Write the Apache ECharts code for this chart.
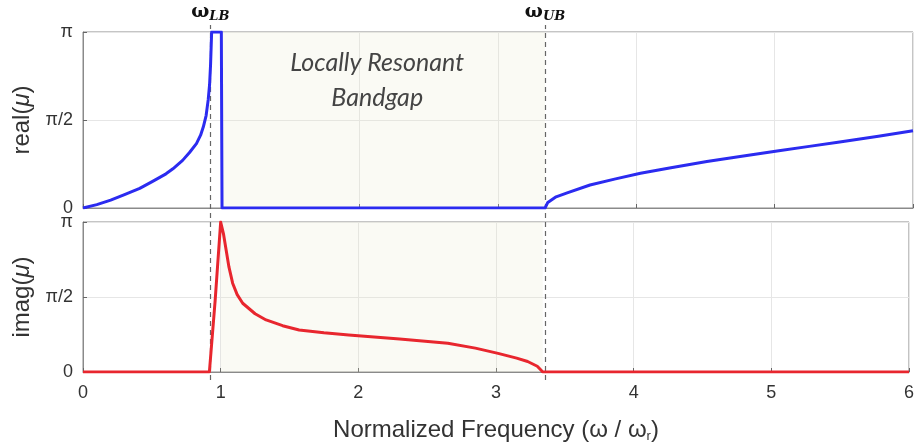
<!DOCTYPE html>
<html>
<head>
<meta charset="utf-8">
<script src="https://cdn.jsdelivr.net/npm/echarts@6/dist/echarts.min.js"></script>
<style>
html,body{margin:0;padding:0;background:#fff;}
#chart{width:917px;height:447px;}
</style>
</head>
<body>
<div id="chart"></div>
<script>
// ---- data ----
const PI = Math.PI;
const realX = [0, 0.1, 0.2, 0.3, 0.41, 0.5, 0.6, 0.65, 0.72, 0.77, 0.82, 0.85, 0.87, 0.89, 0.905, 0.915, 0.922, 0.93, 1.0, 1.005, 3.34, 3.36, 3.42, 3.5, 3.665, 3.85, 4.03, 4.25, 4.51, 4.75, 5.03, 5.25, 5.47, 5.75, 6.0];
const realY = [0, 0.06, 0.14, 0.24, 0.35, 0.47, 0.61, 0.7, 0.85, 0.99, 1.15, 1.3, 1.45, 1.65, 1.93, 2.2, 2.55, 3.1416, 3.1416, 0, 0, 0.1, 0.2, 0.27, 0.41, 0.52, 0.62, 0.72, 0.83, 0.92, 1.02, 1.1, 1.18, 1.28, 1.38];
const imagX = [0, 0.918, 0.96, 1.0, 1.02, 1.04, 1.06, 1.087, 1.12, 1.16, 1.25, 1.33, 1.45, 1.57, 1.75, 1.93, 2.3, 2.65, 2.85, 3.015, 3.15, 3.23, 3.3, 3.34, 6.0];
const imagY = [0, 0, 1.5, 3.1416, 2.9, 2.55, 2.2, 1.86, 1.62, 1.44, 1.22, 1.09, 0.97, 0.88, 0.82, 0.775, 0.69, 0.60, 0.50, 0.39, 0.29, 0.22, 0.12, 0, 0];
const xTicks = [0, 1, 2, 3, 4, 5, 6];
const yTickLabels = ['0', 'π/2', 'π'];
const omegaLB = 0.918;
const omegaUB = 3.34;
const gapStart = 1.0;
const gapEnd = 3.34;

const pairs = (xs, ys) => xs.map((x, i) => [x, ys[i]]);

const chart = echarts.init(document.getElementById('chart'), null, {renderer: 'canvas'});
const FONT = '"Liberation Sans", Arial, sans-serif';
const gridLeft = 83, gridRight = 4;

const xBase = (gi, showLabels) => ({
  type: 'value', gridIndex: gi, min: 0, max: 6, interval: 1,
  axisLine: {show: true, lineStyle: {color: '#8a8a8a'}},
  axisTick: {show: true, inside: true, length: 4, lineStyle: {color: '#666'}},
  axisLabel: {show: showLabels, color: '#333', fontSize: 18, fontFamily: FONT, margin: 12,
    formatter: v => String(xTicks[xTicks.indexOf(v)])},
  splitLine: {show: true, lineStyle: {color: '#e6e6e6'}}
});
const yBase = (gi, nameTxt) => ({
  type: 'value', gridIndex: gi, min: 0, max: PI, interval: PI / 2,
  name: nameTxt, nameLocation: 'middle', nameGap: 32, nameRotate: 90,
  nameTextStyle: {color: '#333', fontSize: 24, fontFamily: FONT,
    rich: {n: {fontSize: 24, fontFamily: FONT, color: '#333'},
           i: {fontSize: 24, fontStyle: 'italic', fontFamily: FONT, color: '#333'}}},
  axisLine: {show: true, lineStyle: {color: '#8a8a8a'}},
  axisTick: {show: true, inside: true, length: 4, lineStyle: {color: '#666'}},
  axisLabel: {color: '#333', fontSize: 18, fontFamily: FONT, margin: 10,
    formatter: v => yTickLabels[Math.round(v / (PI / 2))]},
  splitLine: {show: true, lineStyle: {color: '#e6e6e6'}}
});

const shade = {
  silent: true,
  itemStyle: {color: 'rgba(230,230,200,0.2)'},
  data: [[{xAxis: gapStart}, {xAxis: gapEnd}]]
};

const option = {
  animation: false,
  backgroundColor: '#fff',
  grid: [
    {left: gridLeft, right: gridRight, top: 32, height: 176, show: true, borderColor: '#8a8a8a', borderWidth: 1, backgroundColor: 'transparent'},
    {left: gridLeft, right: gridRight, top: 222, height: 150, show: true, borderColor: '#8a8a8a', borderWidth: 1, backgroundColor: 'transparent'},
    {left: gridLeft, right: gridRight, top: 25, bottom: 67}
  ],
  xAxis: [
    xBase(0, false),
    Object.assign(xBase(1, true), {
      name: '{n|Normalized Frequency (ω / ω}{s|r}{n|)}', nameLocation: 'middle', nameGap: 45,
      nameTextStyle: {rich: {
        n: {fontSize: 24, color: '#333', fontFamily: FONT, lineHeight: 26},
        s: {fontSize: 13, color: '#333', fontFamily: FONT, lineHeight: 26, verticalAlign: 'bottom', padding: [12, 0, 0, 0]}
      }}
    }),
    {type: 'value', gridIndex: 2, min: 0, max: 6, show: false}
  ],
  yAxis: [
    yBase(0, '{n|real(}{i|μ}{n|)}'),
    yBase(1, '{n|imag(}{i|μ}{n|)}'),
    {type: 'value', gridIndex: 2, min: 0, max: 1, show: false}
  ],
  series: [
    {
      type: 'line', xAxisIndex: 0, yAxisIndex: 0, data: pairs(realX, realY),
      showSymbol: false,
      lineStyle: {color: '#2b2bf0', width: 3, join: 'round'}, z: 5,
      markArea: Object.assign({}, shade, {
        label: {show: true, position: 'insideTop', offset: [-6, 8],
          formatter: 'Locally Resonant\nBandgap',
          color: '#444', fontSize: 25, fontStyle: 'italic', fontFamily: 'Lato, "Open Sans", sans-serif',
          lineHeight: 35, align: 'center'}
      })
    },
    {
      type: 'line', xAxisIndex: 1, yAxisIndex: 1, data: pairs(imagX, imagY),
      showSymbol: false,
      lineStyle: {color: '#e8262e', width: 3, join: 'round'}, z: 5,
      markArea: shade
    },
    {
      type: 'line', xAxisIndex: 2, yAxisIndex: 2, data: [[0, 0]],
      showSymbol: false, lineStyle: {opacity: 0}, silent: true, z: 3,
      markLine: {
        silent: true, symbol: 'none',
        lineStyle: {color: '#666', width: 1.2, type: [5, 4]},
        label: {show: true, position: 'end', distance: 2,
          rich: {
            w: {fontSize: 19, fontWeight: 'bold', fontFamily: '"DejaVu Serif", serif', color: '#111'},
            s: {fontSize: 13, fontWeight: 'bold', fontStyle: 'italic', fontFamily: '"DejaVu Serif", serif', color: '#111', verticalAlign: 'bottom', padding: [8, 0, 0, 0]}
          }},
        data: [
          {xAxis: omegaLB, label: {formatter: '{w|ω}{s|LB}'}},
          {xAxis: omegaUB, label: {formatter: '{w|ω}{s|UB}'}}
        ]
      }
    }
  ]
};
chart.setOption(option);
</script>
</body>
</html>
